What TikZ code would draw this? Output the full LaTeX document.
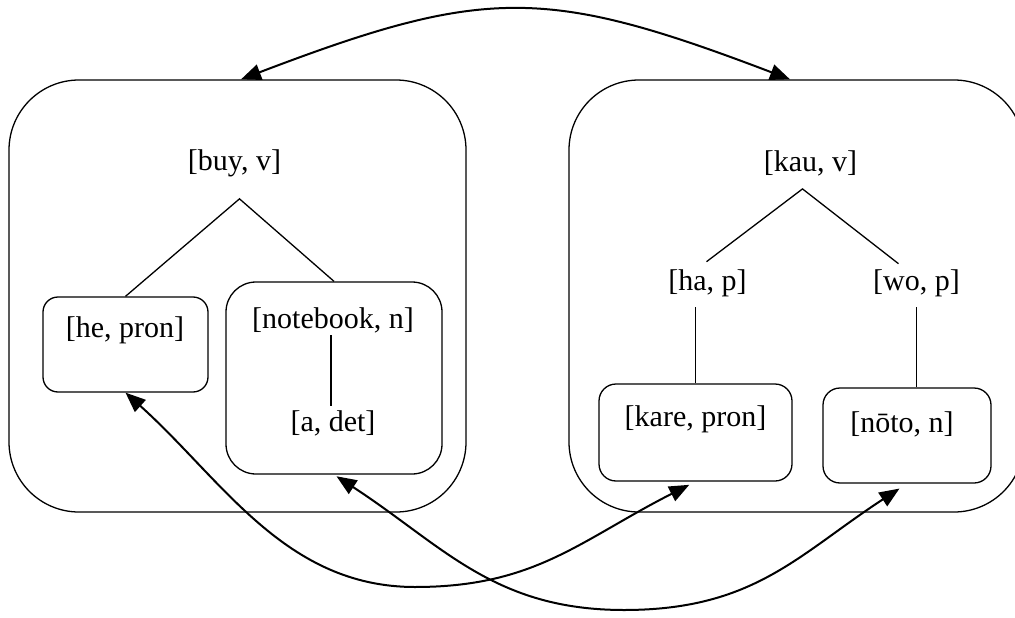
\documentclass[tikz,border=0pt]{standalone}
\usepackage{fontspec}
\setmainfont{Liberation Serif}
\usetikzlibrary{arrows.meta}

\begin{document}
\begin{tikzpicture}[x=1pt, y=-1pt,
    label/.style={inner sep=0pt, font=\fontsize{30}{35}\selectfont},
    frame/.style={draw, line width=1.3pt, inner sep=0pt},
    branch/.style={line width=1.3pt},
    link/.style={line width=2pt, {Triangle[length=20pt,width=16pt]}-{Triangle[length=20pt,width=16pt]}}]
  \useasboundingbox (0,0) rectangle (1015,618);

  % outer frames of the two structures
  \node[frame, rounded corners=70pt, minimum width=457pt, minimum height=432pt] (L) at (237.5,296) {};
  \node[frame, rounded corners=70pt, minimum width=455pt, minimum height=432pt] (R) at (796.5,296) {};

  % inner boxes
  \node[frame, rounded corners=15pt, minimum width=165pt, minimum height=95pt] (hebox) at (125.5,344.5) {};
  \node[frame, rounded corners=30pt, minimum width=216pt, minimum height=192pt] (nbbox) at (334,378) {};
  \node[frame, rounded corners=17pt, minimum width=193pt, minimum height=97pt] (karebox) at (695.5,432.5) {};
  \node[frame, rounded corners=17pt, minimum width=168pt, minimum height=95pt] (notobox) at (907,435.5) {};

  % labels
  \node[label] (buy)  at (234.5,163) {[buy, v]};
  \node[label] (he)   at (125,330.5) {[he, pron]};
  \node[label] (nb)   at (333,320.5) {[notebook, n]};
  \node[label] (det)  at (333,423)   {[a, det]};
  \node[label] (kau)  at (810.5,163) {[kau, v]};
  \node[label] (ha)   at (707.5,283.5) {[ha, p]};
  \node[label] (wo)   at (916.5,283.5) {[wo, p]};
  \node[label] (kare) at (695.5,419.5) {[kare, pron]};
  \node[label] (noto) at (902,424)   {[nōto, n]};

  % English tree
  \coordinate (buyj) at ([xshift=5pt,yshift=-22pt]buy.south);
  \draw[branch] (hebox.north) -- (buyj) -- (nbbox.north);
  \draw[branch] ([xshift=-2pt,yshift=-2pt]nb.south) -- ([xshift=-2pt,yshift=4pt]det.north);

  % Japanese tree
  \coordinate (kauj) at ([xshift=-8pt,yshift=-13pt]kau.south);
  \draw[branch] ([xshift=-1pt,yshift=8pt]ha.north) -- (kauj) -- ([xshift=-18pt,yshift=6pt]wo.north);
  \coordinate (haj) at ([yshift=-10pt]ha.south);
  \coordinate (woj) at ([yshift=-10pt]wo.south);
  \draw[branch] (karebox.north) -- (karebox.north |- haj);
  \draw[branch] (woj) -- (woj |- notobox.north);

  % correspondence links
  \draw[link] ([xshift=3.5pt]L.north) .. controls +(244,-93) and +(-244,-93) .. ([xshift=-6.5pt]R.north);

  \coordinate (lowA) at (415,587);
  \draw[link, shorten >=7pt] (hebox.south) .. controls +(97,87) and +(-130,0) .. (lowA)
        .. controls +(120,0) and +(-116,59) .. (karebox.south);

  \coordinate (lowB) at (624,610);
  \draw[link, shorten <=3pt, shorten >=9pt] (nbbox.south) .. controls +(109,71) and +(-130,0) .. (lowB)
        .. controls +(130,0) and +(-109,71) .. (notobox.south);
\end{tikzpicture}
\end{document}
